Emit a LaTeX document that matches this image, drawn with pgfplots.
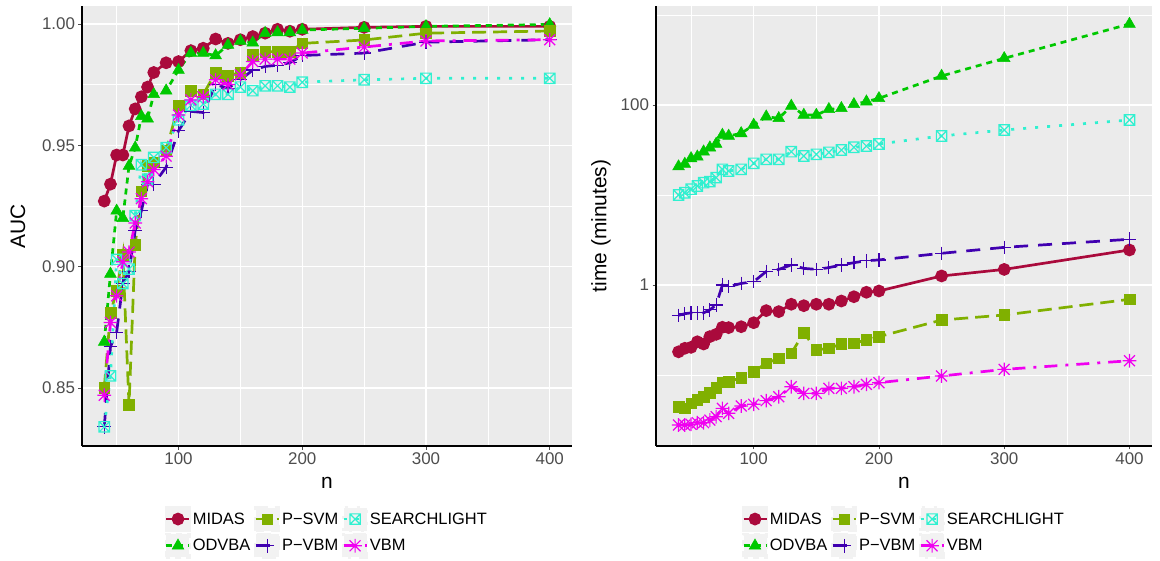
\documentclass[border=0pt]{standalone}
\usepackage{pgfplots}
\pgfplotsset{compat=1.18}
\usepackage{pgfplotstable}
\usepackage{fontspec}
\setmainfont{Liberation Sans}

\definecolor{cMidas}{HTML}{AA0A3C}
\definecolor{cOdvba}{HTML}{00C800}
\definecolor{cPsvm}{HTML}{80B000}
\definecolor{cPvbm}{HTML}{4000B0}
\definecolor{cSearch}{HTML}{30F0D0}
\definecolor{cVbm}{HTML}{F000F0}
\definecolor{panelbg}{HTML}{EBEBEB}
\definecolor{keybg}{HTML}{F2F2F2}
\definecolor{txtgray}{HTML}{4D4D4D}

\pgfdeclareplotmark{boxx}{%
  \pgfpathrectangle{\pgfpoint{-\pgfplotmarksize}{-\pgfplotmarksize}}{\pgfpoint{2\pgfplotmarksize}{2\pgfplotmarksize}}%
  \pgfpathmoveto{\pgfpoint{-\pgfplotmarksize}{-\pgfplotmarksize}}%
  \pgfpathlineto{\pgfpoint{\pgfplotmarksize}{\pgfplotmarksize}}%
  \pgfpathmoveto{\pgfpoint{-\pgfplotmarksize}{\pgfplotmarksize}}%
  \pgfpathlineto{\pgfpoint{\pgfplotmarksize}{-\pgfplotmarksize}}%
  \pgfusepathqstroke}
\pgfdeclareplotmark{star8}{%
  \pgfpathmoveto{\pgfpoint{-\pgfplotmarksize}{0pt}}\pgfpathlineto{\pgfpoint{\pgfplotmarksize}{0pt}}%
  \pgfpathmoveto{\pgfpoint{0pt}{-\pgfplotmarksize}}\pgfpathlineto{\pgfpoint{0pt}{\pgfplotmarksize}}%
  \pgfpathmoveto{\pgfpoint{-0.8\pgfplotmarksize}{-0.8\pgfplotmarksize}}\pgfpathlineto{\pgfpoint{0.8\pgfplotmarksize}{0.8\pgfplotmarksize}}%
  \pgfpathmoveto{\pgfpoint{-0.8\pgfplotmarksize}{0.8\pgfplotmarksize}}\pgfpathlineto{\pgfpoint{0.8\pgfplotmarksize}{-0.8\pgfplotmarksize}}%
  \pgfusepathqstroke}

\pgfplotstableread{
n   midas  odvba  psvm   pvbm   search vbm
40  0.927  0.869  0.850  0.834  0.834  0.847
45  0.934  0.897  0.881  0.867  0.855  0.877
50  0.946  0.923  0.890  0.873  0.903  0.888
55  0.946  0.920  0.905  0.893  0.893  0.902
60  0.958  0.9415 0.843  0.898  0.899  0.906
65  0.965  0.949  0.909  0.915  0.921  0.918
70  0.970  0.962  0.931  0.923  0.942  0.928
75  0.974  0.961  0.9415 0.934  0.936  0.935
80  0.980  0.971  0.943  0.934  0.945  0.940
90  0.984  0.9725 0.948  0.941  0.949  0.9455
100 0.9845 0.981  0.9665 0.956  0.9605 0.9625
110 0.989  0.988  0.9725 0.964  0.9665 0.9687
120 0.990  0.988  0.971  0.9635 0.967  0.970
130 0.9938 0.987  0.980  0.975  0.971  0.977
140 0.992  0.9913 0.9786 0.9735 0.971 0.975
150 0.9935 0.993  0.980  0.977  0.974  0.979
160 0.9948 0.9923 0.9872 0.981 0.9725 0.9845
170 0.9962 0.9962 0.9886 0.9825 0.9745 0.9855
180 0.9978 0.9965 0.9886 0.983 0.9745 0.9855
190 0.997  0.9965 0.9886 0.984 0.974  0.9855
200 0.9978 0.9975 0.992  0.987  0.976  0.988
250 0.9986 0.9982 0.9934 0.988  0.977  0.9905
300 0.999  0.999  0.9962 0.9925 0.9776 0.993
400 0.999  0.9998 0.9971 0.9935 0.9776 0.9935
}\auctable

\pgfplotstableread{
n   midas odvba  psvm   pvbm  search vbm
40  0.181 20.7   0.0445 0.46  10.0  0.0278
45  0.198 22.1   0.0426 0.48  10.6  0.0278
50  0.203 25.5   0.0485 0.49  11.6  0.0283
55  0.234 26.6   0.0528 0.49  12.6  0.0295
60  0.221 30.3   0.0574 0.49  13.7  0.0295
65  0.267 33.6   0.0636 0.53  14.1  0.0316
70  0.283 36.9   0.0722 0.60  15.6  0.0344
75  0.339 46.4   0.083  1.00  19.3  0.0426
80  0.336 45.3   0.0843 0.96  18.5  0.0375
90  0.344 48.4   0.0933 1.04  19.3  0.0453
100 0.381 60.0   0.109  1.09  22.5  0.0472
110 0.519 74.2   0.135  1.41  24.9  0.0519
120 0.506 71.1   0.153  1.49  24.9  0.0574
130 0.611 97.5   0.174  1.67  30.3  0.0741
140 0.589 77.4   0.295  1.53  27.1  0.0625
150 0.611 77.4   0.19   1.49  28.3  0.0625
160 0.611 89.6   0.198  1.56  29.8  0.0711
170 0.664 91.9   0.221  1.67  31.6  0.0711
180 0.741 101.7  0.225  1.77  33.9  0.0741
190 0.83  108.9  0.245  1.86  35.0  0.0787
200 0.858 118.6  0.267  1.90  36.9  0.0822
250 1.26  210    0.408  2.25  45.3  0.0975
300 1.49  330    0.464  2.62  52.7  0.1155
400 2.45  794    0.693  3.22  68.1  0.144
}\timetable

\pgfplotsset{
 sMidas/.style={color=cMidas, line width=2.7bp, solid, mark=*, mark size=5bp, mark options={solid}},
 sOdvba/.style={color=cOdvba, line width=2.7bp, dash pattern=on 6bp off 5bp, mark=triangle*, mark size=6.8bp, mark options={solid, line width=0.5bp}},
 sPsvm/.style={color=cPsvm, line width=2.7bp, dash pattern=on 14bp off 7bp, mark=square*, mark size=5.3bp, mark options={solid, line width=0.5bp}},
 sPvbm/.style={color=cPvbm, line width=2.7bp, dash pattern=on 14bp off 10bp, mark=+, mark size=6.8bp, mark options={solid, line width=1.2bp}},
 sSearch/.style={color=cSearch, line width=2.7bp, dash pattern=on 3bp off 9bp, mark=boxx, mark size=5.2bp, mark options={solid, line width=1.2bp}},
 sVbm/.style={color=cVbm, line width=2.7bp, dash pattern=on 13bp off 8bp on 3bp off 8bp, mark=star8, mark size=6.8bp, mark options={solid, line width=1.2bp}},
 ggaxis/.style={
  scale only axis, height=440bp,
  axis background/.style={fill=panelbg},
  axis x line*=bottom, axis y line*=left,
  axis line style={-, line width=2bp, black},
  tick align=outside, major tick length=3.5bp, minor tick length=0pt,
  tick style={txtgray, line width=0.8bp},
  grid=both, major grid style={white, line width=1.1bp}, minor grid style={white, line width=0.55bp},
  xmin=22, xmax=418, xtick={100,200,300,400}, minor xtick={50,150,250,350},
  ticklabel style={font=\fontsize{17}{20}\selectfont, text=txtgray},
  /pgf/number format/assume math mode=true,
  label style={font=\fontsize{21}{25}\selectfont, text=black},
  xlabel={n},
  xlabel style={at={(axis description cs:0.5,-0.0977)}, anchor=base},
  legend style={at={(axis description cs:0.5,-0.1364)}, anchor=north, draw=none, fill=none,
    inner sep=0pt, legend columns=3, font=\fontsize{16.5}{19}\selectfont, text=black,
    legend cell align=left, /tikz/every even column/.append style={column sep=2bp}, row sep=1bp},
  legend image code/.code={\fill[keybg] (0bp,-11.5bp) rectangle (23bp,11.5bp);
    \draw[mark repeat=2,mark phase=2,##1] plot coordinates {(0bp,0bp) (11.5bp,0bp) (23bp,0bp)};},
 },
}

\begin{document}
\begin{tikzpicture}
\useasboundingbox (0,0) rectangle (1160bp,561bp);
\begin{axis}[ggaxis, at={(82bp,115bp)}, anchor=south west, width=490bp,
  ymin=0.8261, ymax=1.0074, ytick={0.85,0.9,0.95,1.0}, minor ytick={0.875,0.925,0.975},
  yticklabel style={/pgf/number format/.cd, fixed, fixed zerofill, precision=2},
  scaled y ticks=false,
  ylabel={AUC}, ylabel style={at={(axis description cs:-0.1306,0.5)}, anchor=center}]
\addplot[sMidas, forget plot] table[x=n, y=midas] {\auctable};
\addplot[sOdvba, forget plot] table[x=n, y=odvba] {\auctable};
\addplot[sPsvm, forget plot] table[x=n, y=psvm] {\auctable};
\addplot[sPvbm, forget plot] table[x=n, y=pvbm] {\auctable};
\addplot[sSearch, forget plot] table[x=n, y=search] {\auctable};
\addplot[sVbm, forget plot] table[x=n, y=vbm] {\auctable};
\addlegendimage{sMidas}\addlegendentry{MIDAS}
\addlegendimage{sPsvm}\addlegendentry{P−SVM}
\addlegendimage{sSearch}\addlegendentry{SEARCHLIGHT}
\addlegendimage{sOdvba}\addlegendentry{ODVBA}
\addlegendimage{sPvbm}\addlegendentry{P−VBM}
\addlegendimage{sVbm}\addlegendentry{VBM}
\end{axis}
\begin{axis}[ggaxis, at={(656bp,115bp)}, anchor=south west, width=496bp,
  ymode=log, ymin=0.01626, ymax=1259, ytick={1,100}, yticklabels={1,100}, minor ytick={0.1,10,1000},
  ylabel={time (minutes)}, ylabel style={at={(axis description cs:-0.1109,0.5)}, anchor=center}]
\addplot[sMidas, forget plot] table[x=n, y=midas] {\timetable};
\addplot[sOdvba, forget plot] table[x=n, y=odvba] {\timetable};
\addplot[sPsvm, forget plot] table[x=n, y=psvm] {\timetable};
\addplot[sPvbm, forget plot] table[x=n, y=pvbm] {\timetable};
\addplot[sSearch, forget plot] table[x=n, y=search] {\timetable};
\addplot[sVbm, forget plot] table[x=n, y=vbm] {\timetable};
\addlegendimage{sMidas}\addlegendentry{MIDAS}
\addlegendimage{sPsvm}\addlegendentry{P−SVM}
\addlegendimage{sSearch}\addlegendentry{SEARCHLIGHT}
\addlegendimage{sOdvba}\addlegendentry{ODVBA}
\addlegendimage{sPvbm}\addlegendentry{P−VBM}
\addlegendimage{sVbm}\addlegendentry{VBM}
\end{axis}
\end{tikzpicture}
\end{document}
